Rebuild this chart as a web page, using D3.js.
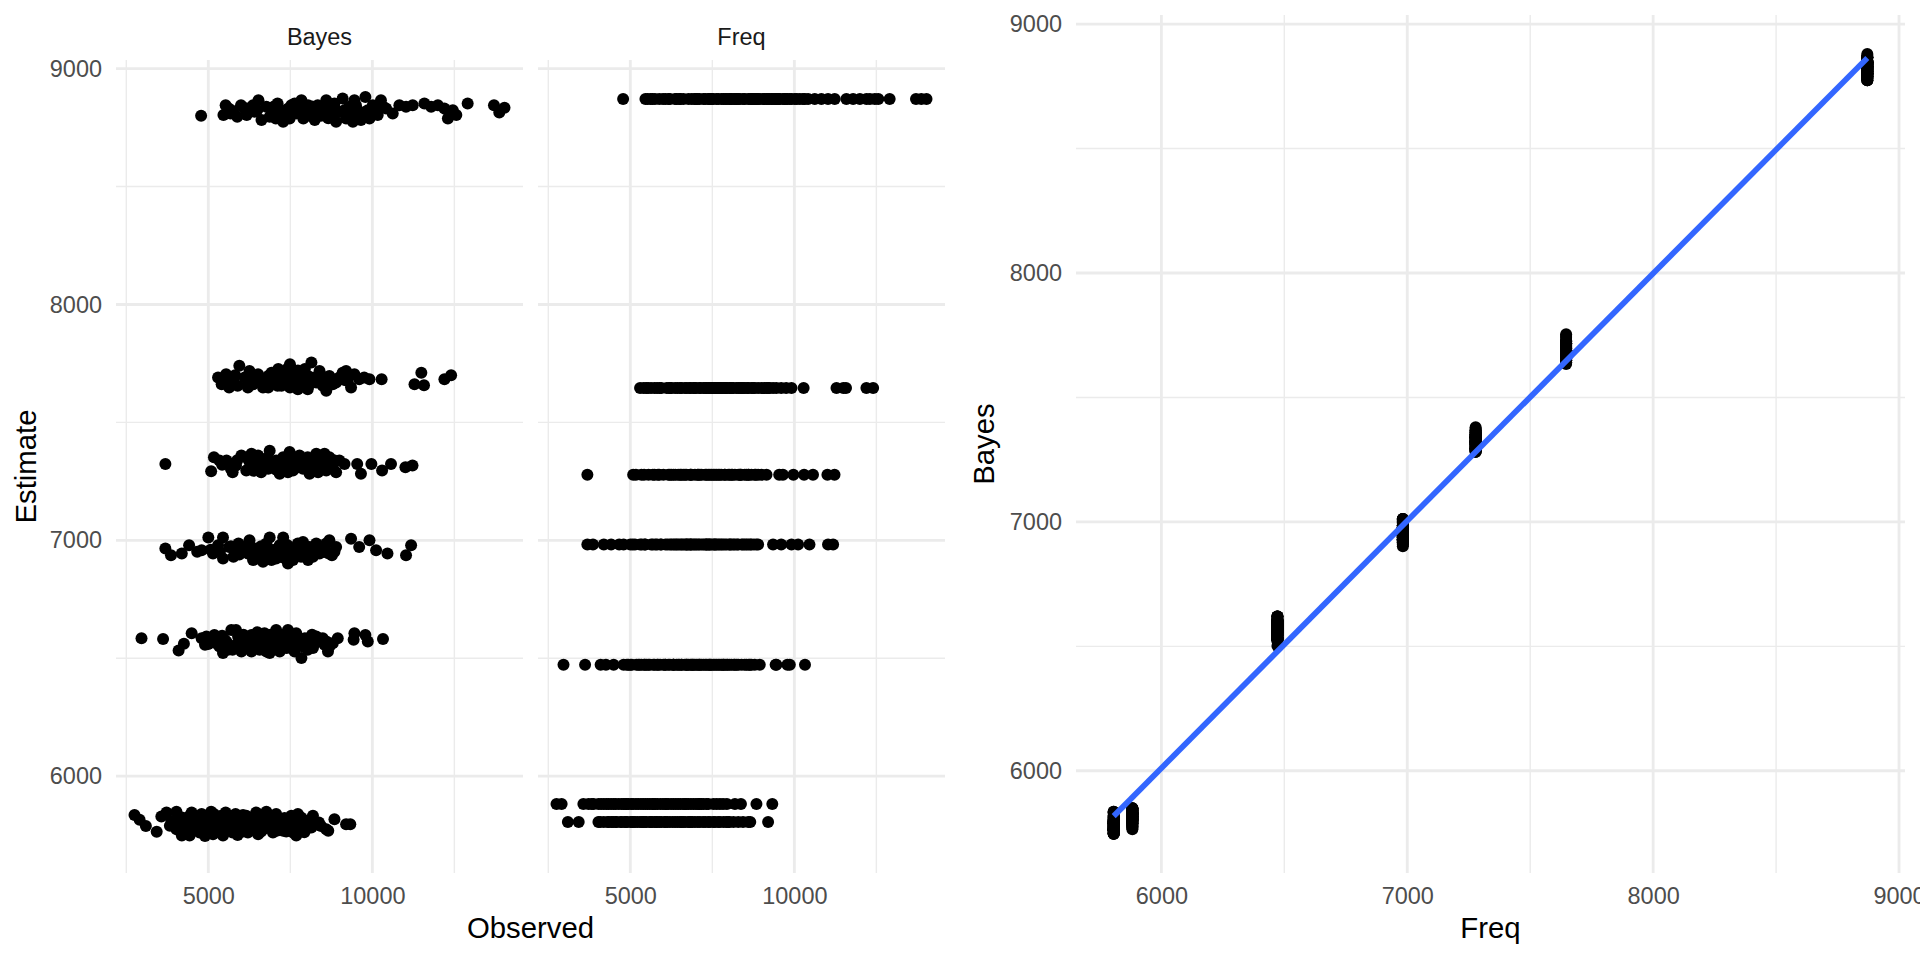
<!DOCTYPE html>
<html>
<head>
<meta charset="utf-8">
<script src="https://cdn.jsdelivr.net/npm/d3@7"></script>
<style>
html,body{margin:0;padding:0;background:#ffffff;}
svg{display:block;}
</style>
</head>
<body>
<svg id="chart" width="1920" height="960"></svg>
<script>
// ---------------- DATA ----------------
// Frequentist estimate level of each group (one per group below)
const freqLevels = [8871, 7646, 7278, 6982, 6472, 5882, 5806];

// Each group: [Observed, Bayes estimate]
const group1 = [[4850,8800],[5330,8803],[5380,8845],[5490,8810],[5650,8796],[5740,8845],[5910,8831],[6080,8817],[6180,8866],[6260,8782],[6390,8838],[6560,8817],[6700,8852],[6860,8775],[6950,8824],[7100,8845],[7250,8810],[7410,8866],[7520,8831],[7670,8803],[7840,8782],[7940,8845],[8110,8824],[8230,8866],[8400,8796],[8520,8852],[8640,8817],[8820,8873],[8950,8789],[9080,8838],[9210,8775],[9270,8866],[9400,8810],[9530,8782],[9710,8880],[9810,8824],[10020,8845],[10230,8803],[10370,8866],[10600,8831],[10900,8810],[11210,8845],[11530,8838],[11860,8845],[12460,8852],[12820,8838],[13190,8845],[13560,8831],[13760,8789],[14050,8824],[14260,8803],[14960,8852],[16720,8845],[17100,8814],[17480,8834],[5450,8831],[5880,8803],[6480,8796],[6810,8810],[7050,8789],[7200,8852],[7470,8789],[7620,8845],[7890,8810],[8340,8838],[8580,8775],[8760,8817],[9140,8810],[9330,8845],[9590,8803],[9880,8789],[6650,8789],[6040,8845],[7780,8824],[8470,8817],
  [5550,8820],[5800,8835],[6150,8825],[6600,8840],[7000,8830],[7350,8820],[7750,8840],[8050,8800],[8450,8830],[8900,8825],[9350,8830],[9650,8815],[10100,8825],[10450,8840],[9000,8800],[8300,8790],[7600,8800],[7000,8805]];

const group2 = [[5210,7690],[5290,7662],[5390,7704],[5540,7683],[5660,7655],[5700,7740],[5830,7690],[5950,7718],[6040,7662],[6170,7704],[6300,7648],[6440,7697],[6570,7669],[6720,7726],[6810,7655],[6960,7690],[7060,7747],[7150,7669],[7300,7641],[7350,7711],[7460,7683],[7610,7641],[7730,7754],[7830,7690],[8000,7718],[8110,7655],[8230,7634],[8340,7697],[8580,7669],[8820,7711],[9010,7676],[9140,7648],[9270,7704],[9460,7683],[9660,7690],[10400,7683],[11950,7662],[12300,7711],[12440,7658],[13560,7683],[13950,7700],[5460,7648],[5910,7648],[6210,7676],[6530,7711],[6860,7704],[7200,7718],[7250,7683],[7520,7726],[7890,7669],[8050,7697],[8460,7662],[8700,7690],[8950,7718],[6440,7648],[7670,7662],[7060,7648],[9880,7683],
  [5350,7675],[5600,7700],[5900,7680],[6100,7690],[6350,7670],[6600,7690],[6900,7675],[7150,7700],[7400,7665],[7650,7695],[7950,7680],[8200,7690],[8400,7680],[8900,7680],[6700,7655],[7500,7700],[7000,7730],[7300,7720]];

const group3 = [[4170,7324],[5060,7293],[5120,7352],[5240,7338],[5400,7338],[5500,7303],[5620,7317],[5750,7360],[5870,7296],[6000,7367],[6120,7324],[6250,7289],[6340,7345],[6480,7380],[6570,7310],[6660,7338],[6760,7282],[6860,7352],[6950,7317],[7050,7374],[7150,7296],[7250,7331],[7350,7360],[7460,7303],[7560,7345],[7670,7282],[7780,7324],[7890,7367],[8000,7310],[8110,7338],[8230,7296],[8340,7352],[8460,7317],[8580,7289],[8890,7324],[9380,7324],[9530,7282],[9960,7324],[10420,7296],[10820,7324],[11500,7310],[11850,7317],[5910,7345],[6170,7360],[6440,7303],[6710,7324],[7000,7289],[7300,7310],[7610,7352],[7950,7289],[8170,7367],[8700,7338],[5540,7289],[6300,7317],
  [5300,7320],[5650,7340],[5950,7310],[6200,7330],[6450,7345],[6650,7300],[6900,7335],[7200,7345],[7450,7325],[7700,7310],[7950,7340],[8250,7320],[8500,7340],[6050,7295],[7100,7330]];

const group4 = [[4170,6965],[4270,6937],[4470,6944],[4610,6979],[4770,6951],[4860,6958],[5000,7012],[5100,6944],[5210,6979],[5320,7012],[5320,6923],[5460,6972],[5560,6930],[5680,6986],[5800,6951],[5950,7000],[6040,6916],[6120,6965],[6210,6937],[6300,6909],[6390,6986],[6480,7012],[6570,6958],[6660,6923],[6760,6979],[6860,7012],[6900,6944],[7000,6902],[7100,6965],[7200,6930],[7300,6986],[7460,6993],[7520,6944],[7620,6916],[7730,6965],[7890,6986],[8000,6944],[8170,6972],[8340,7000],[8430,6937],[8580,6972],[9140,7007],[9460,6972],[9880,7000],[10160,6958],[10660,6944],[11530,6937],[11780,6979],[5910,6944],[6080,6951],[6340,6944],[6610,6944],[6950,6958],[7350,6951],[7780,6930],[8110,6951],[6170,6923],[6530,6916],[6810,6930],[7150,6916],[5600,6958],[6440,6965],[7250,6958],[7670,6972],[8230,6986],[8520,6951],
  [5050,6960],[5250,6950],[5500,6975],[5700,6940],[5850,6970],[6000,6960],[6250,6975],[6450,6935],[6700,6965],[6980,6980],[7150,6950],[7400,6930],[7600,6960],[7850,6950],[8050,6965],[8300,6945],[6350,6925],[6900,6925],[7050,6940]];

const group5 = [[3770,6585],[4130,6582],[4410,6533],[4510,6561],[4660,6606],[4860,6585],[4930,6557],[5030,6571],[5130,6599],[5240,6550],[5360,6578],[5510,6620],[5540,6536],[5670,6592],[5790,6564],[5910,6543],[6000,6599],[6080,6564],[6210,6536],[6340,6606],[6440,6571],[6480,6522],[6570,6592],[6660,6620],[6760,6529],[6860,6571],[7000,6620],[7100,6550],[7250,6606],[7350,6564],[7410,6501],[7520,6585],[7610,6536],[7780,6543],[7890,6592],[8000,6578],[8170,6557],[8340,6550],[8460,6564],[8640,6585],[9240,6578],[9270,6606],[9710,6599],[9810,6571],[10460,6582],[4960,6592],[5170,6564],[5430,6536],[5620,6620],[5750,6529],[5870,6585],[6120,6592],[6300,6557],[6390,6529],[6530,6550],[6710,6578],[6810,6599],[6950,6543],[7050,6585],[7200,6529],[7300,6578],[7460,6550],[7670,6571],[7840,6564],[8110,6585],[8290,6529],[5320,6522],[6000,6529],[6210,6578],
  [5000,6560],[5200,6590],[5400,6570],[5600,6555],[5800,6600],[6000,6565],[6150,6610],[6350,6580],[6500,6600],[6620,6560],[6900,6560],[7150,6600],[7400,6570],[7550,6560],[7750,6600],[8250,6570],[5300,6595],[6700,6545],[7000,6545]];

const group6 = [[3660,5835],[3740,5815],[4100,5829],[4190,5846],[4280,5810],[4370,5849],[4470,5825],[4560,5789],[4660,5846],[4760,5817],[4860,5839],[4960,5803],[5060,5849],[5170,5825],[5280,5796],[5380,5846],[5490,5817],[5610,5839],[5740,5789],[5870,5832],[6000,5810],[6120,5846],[6250,5825],[6390,5849],[6530,5803],[6660,5839],[6810,5817],[6950,5789],[7100,5832],[7300,5839],[7520,5810],[7780,5832],[7980,5803],[8520,5817],[9110,5796],[4700,5775],[5520,5775],[6300,5782],[5800,5765],[6700,5770],
  [4420,5805],[4610,5830],[4820,5800],[4920,5825],[5020,5812],[5120,5840],[5230,5808],[5330,5830],[5430,5800],[5560,5826],[5680,5808],[5820,5820],[5940,5800],[6060,5828],[6180,5806],[6330,5832],[6460,5815],[6600,5826],[6750,5800],[6900,5822],[7200,5815],[7400,5825],[4250,5790],[4520,5780],[4900,5790]];

const group7 = [[3840,5789],[4020,5764],[4370,5775],[4470,5748],[4560,5803],[4620,5748],[4720,5782],[4820,5761],[4930,5746],[5000,5796],[5100,5754],[5210,5775],[5320,5748],[5430,5789],[5540,5761],[5660,5750],[5790,5782],[5910,5761],[6040,5803],[6170,5754],[6300,5775],[6440,5789],[6570,5761],[6710,5796],[6860,5768],[7000,5782],[7150,5761],[7250,5748],[7410,5789],[7560,5775],[7730,5782],[7890,5796],[8050,5789],[8230,5775],[8300,5768],[8950,5796],[4890,5830],[5280,5832],[6440,5835],[5790,5835],[7100,5820],[5600,5815],[6200,5818],[4700,5810],[7600,5812],
  [4400,5790],[4550,5765],[4800,5785],[4900,5770],[5050,5760],[5150,5790],[5250,5765],[5350,5780],[5480,5770],[5580,5795],[5700,5768],[5850,5790],[5980,5772],[6100,5795],[6250,5765],[6380,5780],[6500,5800],[6650,5770],[6800,5790],[6950,5765],[7300,5795],[7500,5762],[4650,5800],[5050,5810],[5450,5805]];

const facetNames = ["Bayes", "Freq"];
const observedTicks = [5000, 10000];
const estimateTicks = [6000, 7000, 8000, 9000];
const freqTicks = [6000, 7000, 8000, 9000];
const bayesTicks = [6000, 7000, 8000, 9000];

// ---------------- BUILD ROWS ----------------
const groups = [group1, group2, group3, group4, group5, group6, group7];
const rows = [];
groups.forEach((g, i) => g.forEach(([o, b]) => rows.push({observed: o, bayes: b, freq: freqLevels[i]})));

// ---------------- HELPERS ----------------
const FONT = "'Liberation Sans', Arial, Helvetica, sans-serif";
const TICK_SIZE = 23.47, TITLE_SIZE = 29.33, STRIP_SIZE = 23.47;
const GRID = "#EBEBEB", MAJOR_W = 2.84, MINOR_W = 1.42;
const PT_R = 6.0;

function expandLinear([a, b]) { const d = (b - a) * 0.05; return [a - d, b + d]; }
function expandLog([a, b]) {
  const la = Math.log10(a), lb = Math.log10(b), d = (lb - la) * 0.05;
  return [Math.pow(10, la - d), Math.pow(10, lb + d)];
}
function minorLinear(majors, domain) {
  const s = majors[1] - majors[0];
  const out = majors.map(m => m - s / 2).concat([majors[majors.length - 1] + s / 2]);
  return out.filter(v => v >= domain[0] && v <= domain[1]);
}
function minorLog(majors, domain) {
  const l = majors.map(Math.log10), s = l[1] - l[0];
  const out = l.map(m => m - s / 2).concat([l[l.length - 1] + s / 2]).map(v => Math.pow(10, v));
  return out.filter(v => v >= domain[0] && v <= domain[1]);
}
function styleAxis(g) {
  g.select(".domain").remove();
  g.attr("font-family", FONT).attr("font-size", TICK_SIZE);
  g.selectAll("text").attr("fill", "#4D4D4D");
}

const svg = d3.select("#chart");
svg.append("rect").attr("width", 1920).attr("height", 960).attr("fill", "#ffffff");

// ---------------- LEFT PLOT (faceted) ----------------
const L = {top: 60, bottom: 873, facetX: [116, 538], facetW: 407};
const yLeft = d3.scaleLinear()
  .domain(expandLinear(d3.extent(rows.flatMap(r => [r.bayes, r.freq]))))
  .range([L.bottom, L.top]);
const xObs = d3.scaleLog()
  .domain(expandLog(d3.extent(rows, r => r.observed)))
  .range([0, L.facetW]);

const yMinorL = minorLinear(estimateTicks, yLeft.domain());
const xMinorL = minorLog(observedTicks, xObs.domain());

facetNames.forEach((name, fi) => {
  const x0 = L.facetX[fi];
  const g = svg.append("g").attr("transform", `translate(${x0},0)`);
  g.selectAll(".hminor").data(yMinorL).join("line")
    .attr("x1", 0).attr("x2", L.facetW).attr("y1", d => yLeft(d)).attr("y2", d => yLeft(d))
    .attr("stroke", GRID).attr("stroke-width", MINOR_W);
  g.selectAll(".vminor").data(xMinorL).join("line")
    .attr("x1", d => xObs(d)).attr("x2", d => xObs(d)).attr("y1", L.top).attr("y2", L.bottom)
    .attr("stroke", GRID).attr("stroke-width", MINOR_W);
  g.selectAll(".hmajor").data(estimateTicks).join("line")
    .attr("x1", 0).attr("x2", L.facetW).attr("y1", d => yLeft(d)).attr("y2", d => yLeft(d))
    .attr("stroke", GRID).attr("stroke-width", MAJOR_W);
  g.selectAll(".vmajor").data(observedTicks).join("line")
    .attr("x1", d => xObs(d)).attr("x2", d => xObs(d)).attr("y1", L.top).attr("y2", L.bottom)
    .attr("stroke", GRID).attr("stroke-width", MAJOR_W);
  const yKey = name === "Bayes" ? "bayes" : "freq";
  g.append("g").selectAll("circle").data(rows).join("circle")
    .attr("cx", d => xObs(d.observed)).attr("cy", d => yLeft(d[yKey]))
    .attr("r", PT_R).attr("fill", "#000000");
  svg.append("text").attr("x", x0 + L.facetW / 2).attr("y", 45)
    .attr("text-anchor", "middle").attr("font-family", FONT).attr("font-size", STRIP_SIZE)
    .attr("fill", "#1A1A1A").text(name);
  const ax = svg.append("g").attr("transform", `translate(${x0},${L.bottom})`)
    .call(d3.axisBottom(xObs).tickValues(observedTicks).tickFormat(d3.format("d")).tickSize(0).tickPadding(14));
  styleAxis(ax);
});

const ayL = svg.append("g").attr("transform", `translate(${L.facetX[0]},0)`)
  .call(d3.axisLeft(yLeft).tickValues(estimateTicks).tickFormat(d3.format("d")).tickSize(0).tickPadding(14));
styleAxis(ayL);

svg.append("text").attr("x", (L.facetX[0] + L.facetX[1] + L.facetW) / 2).attr("y", 938)
  .attr("text-anchor", "middle").attr("font-family", FONT).attr("font-size", TITLE_SIZE)
  .attr("fill", "#000000").text("Observed");
svg.append("text").attr("transform", `translate(35.5,${(L.top + L.bottom) / 2}) rotate(-90)`)
  .attr("text-anchor", "middle").attr("font-family", FONT).attr("font-size", TITLE_SIZE)
  .attr("fill", "#000000").text("Estimate");

// ---------------- RIGHT PLOT ----------------
const R = {left: 1076, right: 1905, top: 15, bottom: 873};
const xFreq = d3.scaleLinear().domain(expandLinear(d3.extent(rows, r => r.freq))).range([R.left, R.right]);
const yBayes = d3.scaleLinear().domain(expandLinear(d3.extent(rows, r => r.bayes))).range([R.bottom, R.top]);
const rg = svg.append("g");
const yMinorR = minorLinear(bayesTicks, yBayes.domain());
const xMinorR = minorLinear(freqTicks, xFreq.domain());

rg.selectAll(".hminor").data(yMinorR).join("line")
  .attr("x1", R.left).attr("x2", R.right).attr("y1", d => yBayes(d)).attr("y2", d => yBayes(d))
  .attr("stroke", GRID).attr("stroke-width", MINOR_W);
rg.selectAll(".vminor").data(xMinorR).join("line")
  .attr("x1", d => xFreq(d)).attr("x2", d => xFreq(d)).attr("y1", R.top).attr("y2", R.bottom)
  .attr("stroke", GRID).attr("stroke-width", MINOR_W);
rg.selectAll(".hmajor").data(bayesTicks).join("line")
  .attr("x1", R.left).attr("x2", R.right).attr("y1", d => yBayes(d)).attr("y2", d => yBayes(d))
  .attr("stroke", GRID).attr("stroke-width", MAJOR_W);
rg.selectAll(".vmajor").data(freqTicks).join("line")
  .attr("x1", d => xFreq(d)).attr("x2", d => xFreq(d)).attr("y1", R.top).attr("y2", R.bottom)
  .attr("stroke", GRID).attr("stroke-width", MAJOR_W);

rg.append("g").selectAll("circle").data(rows).join("circle")
  .attr("cx", d => xFreq(d.freq)).attr("cy", d => yBayes(d.bayes))
  .attr("r", PT_R).attr("fill", "#000000");

// linear fit (lm Bayes ~ Freq)
const mx = d3.mean(rows, r => r.freq), my = d3.mean(rows, r => r.bayes);
const sxy = d3.sum(rows, r => (r.freq - mx) * (r.bayes - my));
const sxx = d3.sum(rows, r => (r.freq - mx) ** 2);
const slope = sxy / sxx, intercept = my - slope * mx;
const fx = d3.extent(rows, r => r.freq);
const fitPts = fx.map(v => [v, intercept + slope * v]);
rg.append("path").datum(fitPts)
  .attr("d", d3.line().x(d => xFreq(d[0])).y(d => yBayes(d[1])))
  .attr("fill", "none").attr("stroke", "#3366FF").attr("stroke-width", 5.7);

const axR = svg.append("g").attr("transform", `translate(0,${R.bottom})`)
  .call(d3.axisBottom(xFreq).tickValues(freqTicks).tickFormat(d3.format("d")).tickSize(0).tickPadding(14));
styleAxis(axR);
const ayR = svg.append("g").attr("transform", `translate(${R.left},0)`)
  .call(d3.axisLeft(yBayes).tickValues(bayesTicks).tickFormat(d3.format("d")).tickSize(0).tickPadding(14));
styleAxis(ayR);

svg.append("text").attr("x", (R.left + R.right) / 2).attr("y", 938)
  .attr("text-anchor", "middle").attr("font-family", FONT).attr("font-size", TITLE_SIZE)
  .attr("fill", "#000000").text("Freq");
svg.append("text").attr("transform", `translate(994.4,${(R.top + R.bottom) / 2}) rotate(-90)`)
  .attr("text-anchor", "middle").attr("font-family", FONT).attr("font-size", TITLE_SIZE)
  .attr("fill", "#000000").text("Bayes");
</script>
</body>
</html>
